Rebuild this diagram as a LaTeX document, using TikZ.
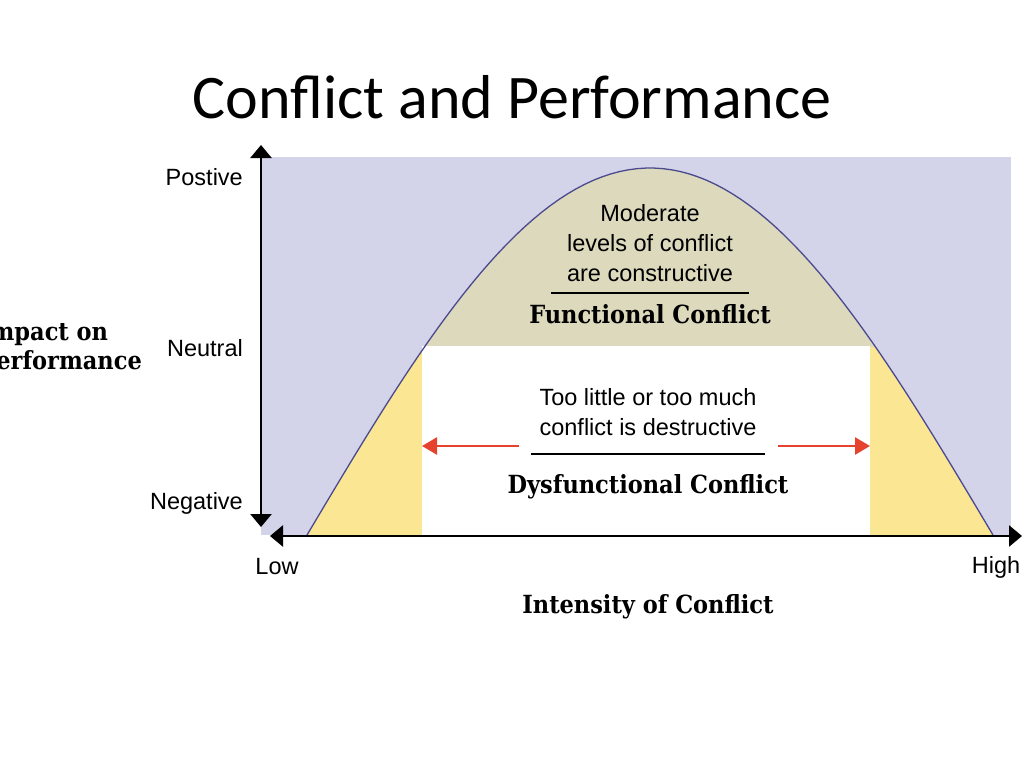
\documentclass[tikz,border=0pt]{standalone}
\usepackage{fontspec}
\setmainfont{Liberation Sans}
\newfontfamily\titlefont{Carlito}
\newfontfamily\slabfont{DejaVu Serif Condensed}
\usetikzlibrary{arrows.meta}
\definecolor{backblue}{HTML}{D3D3EA}
\definecolor{khaki}{HTML}{DCD9BC}
\definecolor{softyellow}{HTML}{FBE694}
\definecolor{curveblue}{HTML}{4B4A8E}
\definecolor{arrowred}{HTML}{E5432D}
\begin{document}
\begin{tikzpicture}[x=1pt, y=-1pt,
        label/.style = {inner sep=0pt, font=\fontsize{23.5}{30}\selectfont},
        heading/.style = {inner sep=0pt, font=\slabfont\bfseries\fontsize{25}{29}\selectfont},
        axis/.style = {line width=2.6pt, {Triangle[width=21pt,length=13pt]}-{Triangle[width=21pt,length=13pt]}},
        pointer/.style = {draw=arrowred, line width=2.6pt, -{Triangle[width=17pt,length=15pt]}},
        rule/.style = {line width=1.2pt}
        ]
    \useasboundingbox (0,0) rectangle (1024,768);
    % background and areas under the curve
    \fill[backblue] (261,157) rectangle (1011,535);
    \fill[softyellow] plot[domain=-1:1, samples=80] ({650+343*\x},{535-367*cos(90*\x)}) -- cycle;
    \begin{scope}
        \clip (261,157) rectangle (1011,346);
        \fill[khaki] plot[domain=-1:1, samples=80] ({650+343*\x},{535-367*cos(90*\x)}) -- cycle;
    \end{scope}
    \fill[white] (422,346) rectangle (870,535);
    \draw[curveblue, line width=1.3pt] plot[domain=-1:1, samples=80] ({650+343*\x},{535-367*cos(90*\x)});
    % axes
    \coordinate (ytop) at (261,145);
    \coordinate (ybot) at (261,527);
    \coordinate (xleft) at (270,536);
    \coordinate (xright) at (1022,536);
    \draw[axis] (ybot) -- (ytop);
    \draw[axis] (xleft) -- (xright);
    % labels
    \node[inner sep=0pt, font=\titlefont\fontsize{62}{70}\selectfont] (title) at (512,97) {Conflict and Performance};
    \node[label, anchor=east] (pos) at (243,177) {Postive};
    \node[label, anchor=east] (neu) at (243,348) {Neutral};
    \node[label, anchor=east] (neg) at (243,503) {Negative};
    \node[heading, anchor=east, align=left] (impact) at (142,346) {Impact on\\Performance};
    \node[label] (low) at (277,567) {Low};
    \node[label] (high) at (996,567) {High};
    \node[heading] (intensity) at (648,607) {Intensity of Conflict};
    % functional part
    \node[label, align=center] (moderate) at (650,243) {Moderate\\levels of conflict\\are constructive};
    \node[heading] (functional) at (650,314) {Functional Conflict};
    \draw[rule] (551,293) -- (749,293);
    % dysfunctional part
    \node[label, align=center] (toolittle) at (648,412) {Too little or too much\\conflict is destructive};
    \node[heading] (dysfunctional) at (648,487) {Dysfunctional Conflict};
    \draw[rule] (531,454) -- (765,454);
    \coordinate (lefttail) at (519,446);
    \coordinate (righttail) at (778,446);
    \draw[pointer] (lefttail) -- (422,446);
    \draw[pointer] (righttail) -- (870,446);
\end{tikzpicture}
\end{document}
